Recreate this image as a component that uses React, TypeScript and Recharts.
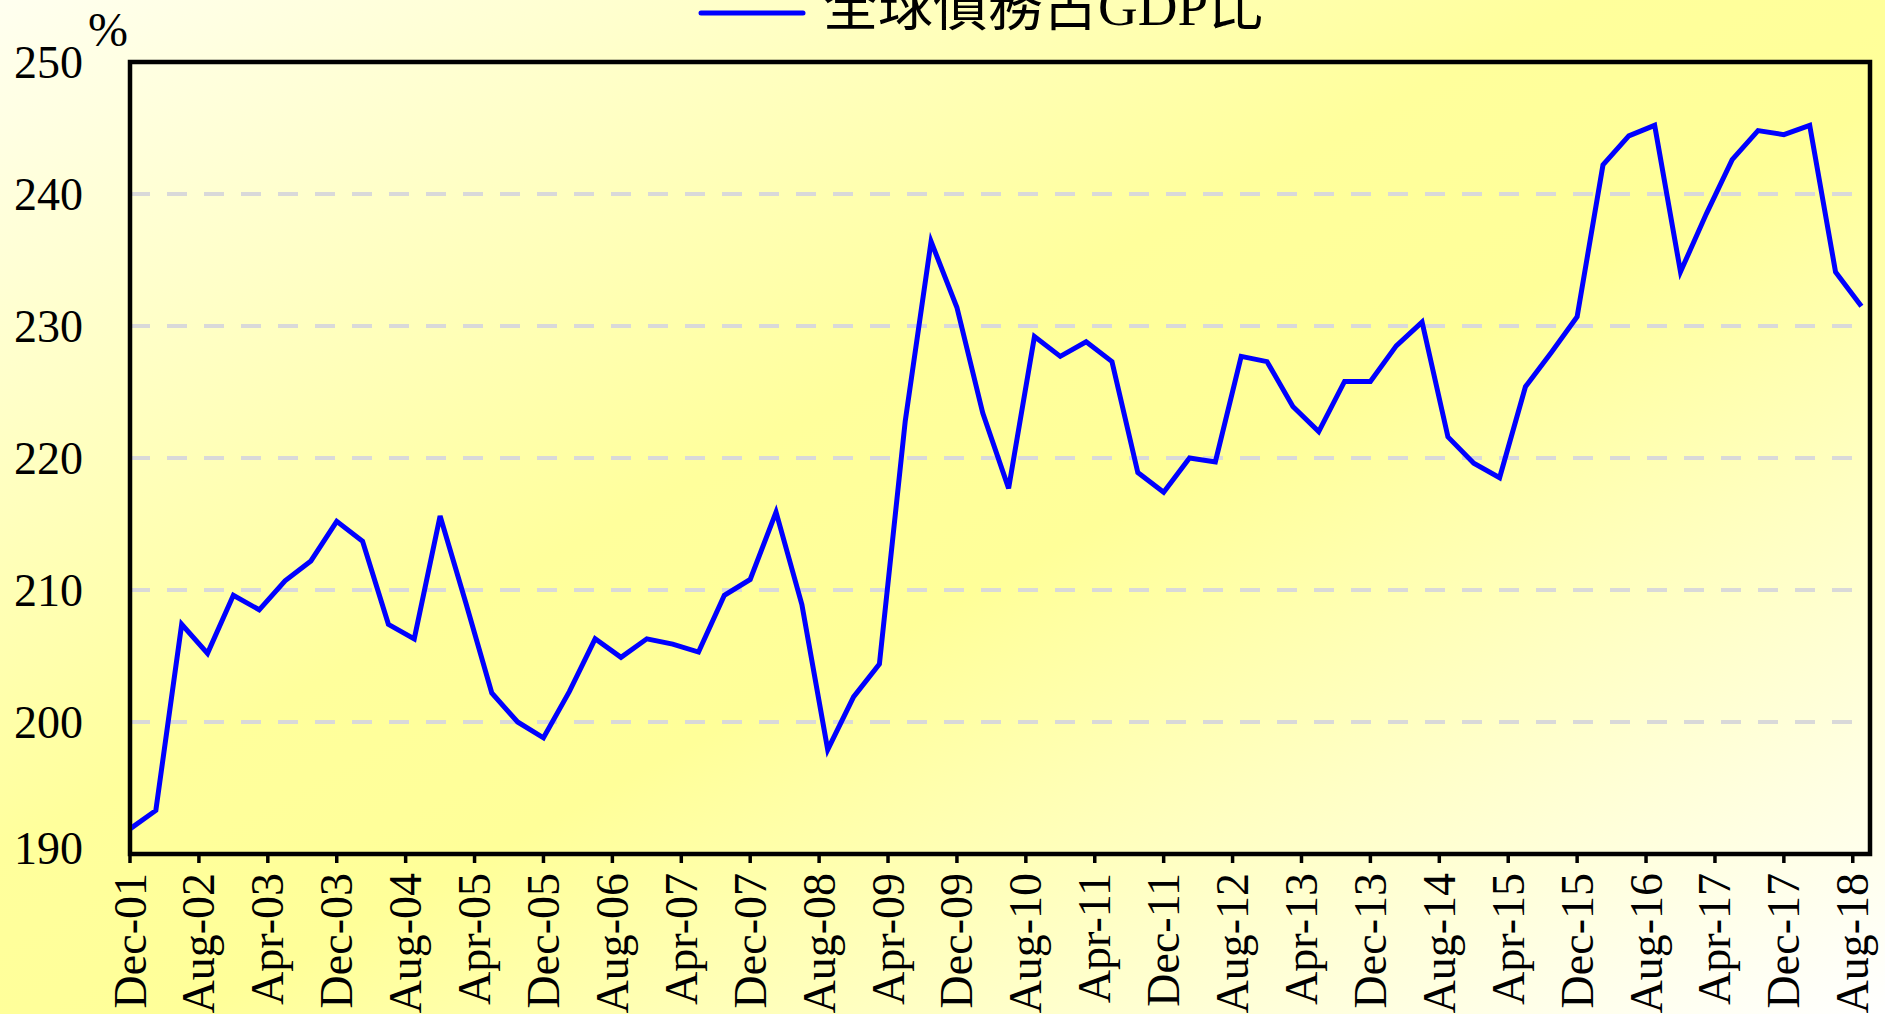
import React from 'react';
import { LineChart, Line, XAxis, YAxis, CartesianGrid, ReferenceArea } from 'recharts';

// Global debt as % of GDP, quarterly from Dec-01 (month offset 0) to Sep-18
const debtToGdp = [
  191.9, 193.3, 207.4, 205.2, 209.6, 208.5, 210.7, 212.2, 215.2, 213.7,
  207.4, 206.3, 215.6, 209.0, 202.2, 200.0, 198.8, 202.3, 206.3, 204.9,
  206.3, 205.9, 205.3, 209.6, 210.8, 215.9, 208.9, 197.9, 201.9, 204.4,
  222.8, 236.4, 231.4, 223.4, 217.7, 229.2, 227.7, 228.8, 227.3, 218.9,
  217.4, 220.0, 219.7, 227.7, 227.3, 223.9, 222.0, 225.8, 225.8, 228.5,
  230.3, 221.6, 219.6, 218.5, 225.4, 228.0, 230.7, 242.2, 244.4, 245.2,
  234.1, 238.5, 242.6, 244.8, 244.5, 245.2, 234.1, 231.5,
];

const xTickLabels = [
  'Dec-01', 'Aug-02', 'Apr-03', 'Dec-03', 'Aug-04', 'Apr-05', 'Dec-05', 'Aug-06', 'Apr-07',
  'Dec-07', 'Aug-08', 'Apr-09', 'Dec-09', 'Aug-10', 'Apr-11', 'Dec-11', 'Aug-12', 'Apr-13',
  'Dec-13', 'Aug-14', 'Apr-15', 'Dec-15', 'Aug-16', 'Apr-17', 'Dec-17', 'Aug-18',
];
const xTickMonths = xTickLabels.map((_, i) => i * 8);
const yTicks = [190, 200, 210, 220, 230, 240, 250];
const seriesName = '全球債務占GDP比';
const unitLabel = '%';

const data = debtToGdp.map((v, i) => ({ m: i * 3, v }));

const FONT = "'Liberation Serif', 'Times New Roman', 'Noto Sans CJK TC', serif";

const XTick = (props: any) => {
  const { x, y, payload } = props;
  const idx = xTickMonths.indexOf(payload.value);
  return (
    <text
      x={x}
      y={y}
      transform={`rotate(-90 ${x} ${y})`}
      textAnchor="end"
      dominantBaseline="central"
      fontSize={46}
      fontFamily={FONT}
      fill="#000"
    >
      {idx >= 0 ? xTickLabels[idx] : ''}
    </text>
  );
};

const YTick = (props: any) => {
  const { x, y, payload } = props;
  const shift = payload.value === 190 ? -6 : 0;
  return (
    <text
      x={x}
      y={y + shift}
      textAnchor="end"
      dominantBaseline="central"
      fontSize={46}
      fontFamily={FONT}
      fill="#000"
    >
      {payload.value}
    </text>
  );
};

export default function App() {
  return (
    <div
      style={{
        position: 'absolute',
        left: 0,
        top: 0,
        width: 1885,
        height: 1014,
        overflow: 'hidden',
        background:
          'linear-gradient(to bottom right, #fffff0 0%, #ffff9c 42%, #ffff99 55%, #ffffff 100%)',
      }}
    >
      <LineChart
        width={1885}
        height={1014}
        data={data}
        margin={{ top: 62, right: 15, left: 10, bottom: 0 }}
      >
        <CartesianGrid
          vertical={false}
          stroke="#d9d9d9"
          strokeWidth={4}
          strokeDasharray="20 17"
        />
        <XAxis
          type="number"
          dataKey="m"
          domain={[0, 202]}
          ticks={xTickMonths}
          interval={0}
          height={160}
          tick={<XTick />}
          tickSize={9}
          tickMargin={10}
          tickLine={{ stroke: '#000', strokeWidth: 3.5 }}
          axisLine={{ stroke: '#000', strokeWidth: 4 }}
          allowDataOverflow
        />
        <YAxis
          type="number"
          domain={[190, 250]}
          ticks={yTicks}
          interval={0}
          width={120}
          tick={<YTick />}
          tickSize={0}
          tickMargin={47}
          tickLine={false}
          axisLine={{ stroke: '#000', strokeWidth: 4 }}
          allowDataOverflow
        />
        <ReferenceArea
          x1={0}
          x2={202}
          y1={190}
          y2={250}
          fill="none"
          fillOpacity={0}
          stroke="#000"
          strokeWidth={4.5}
          ifOverflow="visible"
        />
        <Line
          type="linear"
          dataKey="v"
          name={seriesName}
          stroke="#0000ff"
          strokeWidth={5}
          dot={false}
          activeDot={false}
          isAnimationActive={false}
        />
      </LineChart>
      <svg
        width={1885}
        height={1014}
        style={{ position: 'absolute', left: 0, top: 0, pointerEvents: 'none', overflow: 'visible' }}
      >
        <line x1={701} y1={13} x2={803} y2={13} stroke="#0000ff" strokeWidth={5} strokeLinecap="round" />
        <text x={823} y={25} fontSize={55} fontFamily={FONT} fill="#000">
          {seriesName}
        </text>
        <text x={88} y={46} fontSize={48} fontFamily={FONT} fill="#000">
          {unitLabel}
        </text>
      </svg>
    </div>
  );
}
